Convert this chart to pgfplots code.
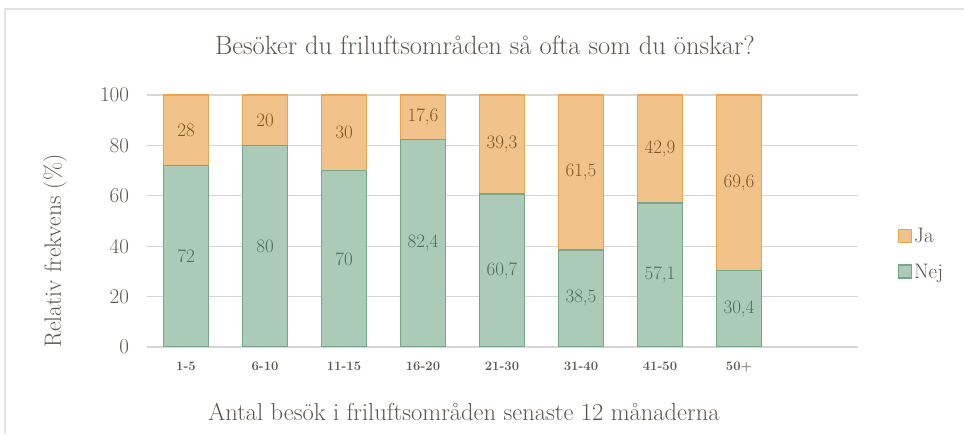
\documentclass[border=0pt]{standalone}
\usepackage{pgfplots}
\usepackage{pgfplotstable}
\pgfplotsset{compat=1.18}

\definecolor{txt}{RGB}{94,86,78}
\definecolor{jafill}{RGB}{241,195,138}
\definecolor{jaedge}{RGB}{236,165,75}
\definecolor{jatxt}{RGB}{122,88,40}
\definecolor{nejfill}{RGB}{171,202,183}
\definecolor{nejedge}{RGB}{116,168,136}
\definecolor{nejtxt}{RGB}{78,108,92}
\definecolor{gridc}{RGB}{217,213,209}

\pgfplotstableread{
x nej ja
0 72 28
1 80 20
2 70 30
3 82.4 17.6
4 60.7 39.3
5 38.5 61.5
6 57.1 42.9
7 30.4 69.6
}\data

\begin{document}
\begin{tikzpicture}[x=1pt,y=1pt]
\useasboundingbox (0,0) rectangle (964,434);
\draw[gray!22, line width=1.2pt] (5,0) -- (5,425) -- (964,425);
\node[text=txt, font=\fontsize{26.5}{30}\selectfont] at (485,389) {Besöker du friluftsområden så ofta som du önskar?};
\node[text=txt, font=\fontsize{24.5}{28}\selectfont] at (464,22) {Antal besök i friluftsområden senaste 12 månaderna};
\node[text=txt, font=\fontsize{23.5}{27}\selectfont, rotate=90] at (55,183) {Relativ frekvens (\%)};
\begin{axis}[
  at={(146.5pt,87pt)}, anchor=south west,
  scale only axis, width=711pt, height=252pt,
  ybar stacked, bar width=45pt,
  xmin=-0.5, xmax=8.5, ymin=0, ymax=100,
  ytick={0,20,...,100},
  xtick={0,...,7},
  xticklabels={1-5,6-10,11-15,16-20,21-30,31-40,41-50,50+},
  axis line style={draw=none},
  major tick length=0pt,
  ymajorgrids, grid style={gridc, line width=1.2pt},
  /pgf/number format/assume math mode=true,
  /pgf/number format/.cd, fixed, use comma, precision=1, /pgfplots/.cd,
  yticklabel style={text=txt, font=\fontsize{21}{24}\selectfont, xshift=-14pt},
  xticklabel style={text=txt, font=\fontsize{13}{15}\selectfont\bfseries, yshift=-11pt},
  point meta=rawy,
  nodes near coords,
  every node near coord/.append style={anchor=center, font=\fontsize{19}{21}\selectfont},
  legend style={at={(1.052,0.37)}, anchor=west, draw=none, fill=none,
    font=\fontsize{21}{23}\selectfont, text=txt, row sep=16pt,
    /tikz/every even column/.append style={column sep=1pt}},
  legend cell align=left,
  reverse legend,
  legend image code/.code={\draw[#1] (0pt,-6.5pt) rectangle (13pt,6.5pt);},
]
\addplot[fill=nejfill, draw=nejedge, line width=1.5pt,
  every node near coord/.append style={text=nejtxt}] table[x=x, y=nej] {\data};
\addlegendentry{Nej}
\addplot[fill=jafill, draw=jaedge, line width=1.5pt,
  every node near coord/.append style={text=jatxt}] table[x=x, y=ja] {\data};
\addlegendentry{Ja}
\end{axis}
\end{tikzpicture}
\end{document}
